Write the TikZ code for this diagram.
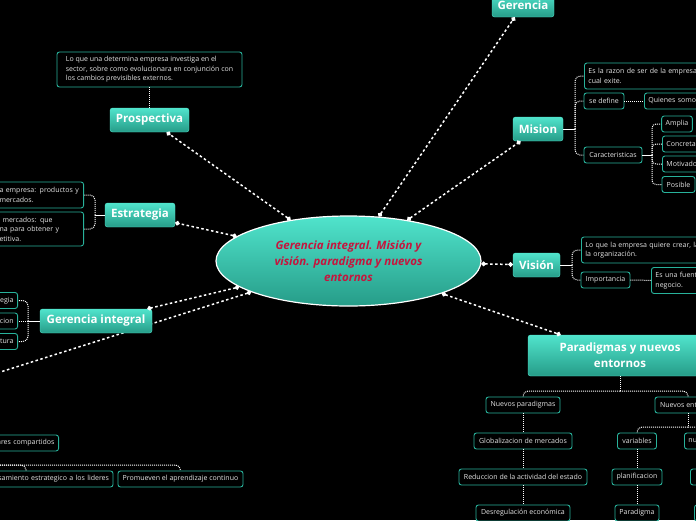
\documentclass[tikz,border=0pt]{standalone}
\usepackage{fontspec}
\setmainfont{Open Sans}
\usetikzlibrary{arrows.meta,shapes.geometric}

\definecolor{temaclaro}{RGB}{80,228,204}
\definecolor{temaoscuro}{RGB}{38,156,136}
\definecolor{bordehoja}{RGB}{40,178,155}
\definecolor{textohoja}{RGB}{228,228,228}
\definecolor{titulo}{RGB}{196,22,62}

\tikzset{
  tema/.style={rounded corners=2.5pt, top color=temaclaro, bottom color=temaoscuro, draw=temaclaro, line width=0.4pt,
    text=white, font=\fontsize{11.5}{14}\selectfont\bfseries, minimum height=24pt, inner sep=0pt},
  hoja/.style={rounded corners=2.5pt, fill=black, draw=bordehoja, line width=0.9pt, text=textohoja,
    font=\fontsize{7}{9.5}\selectfont, minimum height=16pt, inner xsep=4pt, inner ysep=2pt},
  enlace/.style={white, line width=1.5pt, dash pattern=on 2.5pt off 2.5pt, {Circle[length=4.5pt]}-{Circle[length=4.5pt]}},
  rama/.style={white, line width=1pt, dash pattern=on 1pt off 1pt},
  solido/.style={white, line width=1pt},
}

\begin{document}
\begin{tikzpicture}[x=1pt, y=-1pt]
        %%%%%%%%%%%%%%%%%%%%%%%% Fondo %%%%%%%%%%%%%%%%%%%%%%%%%%%%%%%%%%%
        \useasboundingbox (0,0) rectangle (696,520);
        \fill[black] (0,0) rectangle (696,520);
        \clip (0,0) rectangle (696,520);
        %%%%%%%%%%%%%%%%%%%%%%%% Idea central %%%%%%%%%%%%%%%%%%%%%%%%%%%%%%%%%%%
        \node[ellipse, minimum width=265pt, minimum height=90pt, top color=temaclaro, bottom color=temaoscuro,
          draw=white, line width=1.2pt, text=titulo, align=center,
          font=\fontsize{11.5}{16}\selectfont\bfseries\itshape] (centro) at (348.5,261)
          {Gerencia integral. Misión y\\visión. paradigma y nuevos\\entornos};
        \coordinate (fuera) at (-100,404); %rama que sale del cuadro
        \draw[enlace, {Circle[length=4.5pt]}-] (centro) -- (fuera);
        %%%%%%%%%%%%%%%%%%%%%%%% Temas %%%%%%%%%%%%%%%%%%%%%%%%%%%%%%%%%%%
        \node[tema, minimum width=62pt] (gerencia) at (523,5) {Gerencia};
        \node[tema, minimum width=79pt] (prospectiva) at (149.5,120) {Prospectiva};
        \node[tema, minimum width=70pt] (estrategia) at (140,215) {Estrategia};
        \node[tema, minimum width=112pt] (gerint) at (96,321) {Gerencia integral};
        \node[tema, minimum width=50pt] (mision) at (538,129) {Mision};
        \node[tema, minimum width=47pt] (vision) at (536.5,265) {Visión};
        \node[tema, minimum width=184pt, minimum height=41pt, align=center,
          font=\fontsize{11.5}{16}\selectfont\bfseries] (paradigmas) at (620,355.5) {Paradigmas y nuevos\\entornos};
        \draw[enlace] (centro) -- (gerencia);
        \draw[enlace] (centro) -- (prospectiva);
        \draw[enlace] (centro) -- (estrategia);
        \draw[enlace] (centro) -- (gerint);
        \draw[enlace] (centro) -- (mision);
        \draw[enlace] (centro) -- (vision);
        \draw[enlace] (centro) -- (paradigmas);
        %%%%%%%%%%%%%%%%%%%%%%%% Prospectiva %%%%%%%%%%%%%%%%%%%%%%%%%%%%%%%%%%%
        \node[hoja, minimum width=185pt, minimum height=35pt, align=left] (prosdef) at (149.5,69.5)
          {Lo que una determina empresa investiga en el\\sector, sobre como evolucionara en conjunción con\\los cambios previsibles externos.};
        \draw[rama] (prosdef) -- (prospectiva);
        %%%%%%%%%%%%%%%%%%%%%%%% Estrategia %%%%%%%%%%%%%%%%%%%%%%%%%%%%%%%%%%%
        \node[hoja, anchor=east, text width=80pt, align=left, minimum height=26pt] (estr1) at (84,195) {a empresa: productos y\\mercados.};
        \node[hoja, anchor=east, text width=80pt, align=left, minimum height=34pt] (estr2) at (84,229) {\hspace*{3pt}mercados: que\\na para obtener y\\etitiva.};
        \coordinate (je) at (95,215);
        \draw[solido] (estrategia.west) -- (je);
        \draw[rama, rounded corners=5pt] (je) |- (estr1.east);
        \draw[rama, rounded corners=5pt] (je) |- (estr2.east);
        %%%%%%%%%%%%%%%%%%%%%%%% Gerencia integral %%%%%%%%%%%%%%%%%%%%%%%%%%%%%%%%%%%
        \node[hoja, anchor=east, text width=40pt, align=right] (gi1) at (18,300.5) {egia};
        \node[hoja, anchor=east, text width=40pt, align=right] (gi2) at (18,321) {cion};
        \node[hoja, anchor=east, text width=40pt, align=right] (gi3) at (18,341.5) {tura};
        \coordinate (jg) at (28,321);
        \draw[solido] (gerint.west) -- (jg);
        \draw[rama, rounded corners=5pt] (jg) |- (gi1.east);
        \draw[rama] (jg) -- (gi2.east);
        \draw[rama, rounded corners=5pt] (jg) |- (gi3.east);
        %%%%%%%%%%%%%%%%%%%%%%%% Abajo a la izquierda %%%%%%%%%%%%%%%%%%%%%%%%%%%%%%%%%%%
        \node[hoja, anchor=east, text width=80pt, align=right] (valores) at (59,443) {ares compartidos};
        \node[hoja, text width=166pt, align=right] (samiento) at (26,479) {samiento estrategico a los lideres};
        \node[hoja, minimum width=125pt] (promueven) at (180.5,479) {Promueven el aprendizaje continuo};
        \coordinate (ji) at (-20,465);
        \draw[rama, rounded corners=5pt] (ji) -| (samiento.north);
        \draw[rama, rounded corners=5pt] (ji) -| (promueven.north);
        %%%%%%%%%%%%%%%%%%%%%%%% Mision %%%%%%%%%%%%%%%%%%%%%%%%%%%%%%%%%%%
        \node[hoja, anchor=west, text width=140pt, align=left, minimum height=26pt] (razon) at (584,76) {Es la razon de ser de la empresa,\\cual exite.};
        \node[hoja, minimum width=40pt] (sedefine) at (604,101) {se define};
        \node[hoja, anchor=west, text width=60pt, align=left] (quienes) at (644,101) {Quienes somos};
        \node[hoja, minimum width=58pt] (caract) at (613,155) {Caracteristicas};
        \node[hoja, minimum width=30pt] (amplia) at (677,124) {Amplia};
        \node[hoja, anchor=west, text width=40pt, align=left] (concreta) at (662,144) {Concreta};
        \node[hoja, anchor=west, text width=50pt, align=left] (motivadora) at (662,164) {Motivadora};
        \node[hoja, minimum width=33pt] (posible) at (678.5,184.5) {Posible};
        \coordinate (jm) at (575,129);
        \draw[solido] (mision.east) -- (jm);
        \draw[rama, rounded corners=5pt] (jm) |- (razon.west);
        \draw[rama, rounded corners=5pt] (jm) |- (sedefine.west);
        \draw[rama, rounded corners=5pt] (jm) |- (caract.west);
        \draw[rama] (sedefine) -- (quienes);
        \coordinate (jc) at (652,155);
        \draw[solido] (caract.east) -- (jc);
        \draw[rama, rounded corners=4pt] (jc) |- (amplia.west);
        \draw[rama, rounded corners=4pt] (jc) |- (concreta.west);
        \draw[rama, rounded corners=4pt] (jc) |- (motivadora.west);
        \draw[rama, rounded corners=4pt] (jc) |- (posible.west);
        %%%%%%%%%%%%%%%%%%%%%%%% Vision %%%%%%%%%%%%%%%%%%%%%%%%%%%%%%%%%%%
        \node[hoja, anchor=west, text width=140pt, align=left, minimum height=26pt] (crear) at (581,250) {Lo que la empresa quiere crear, la\\la organización.};
        \node[hoja, minimum width=49pt] (importancia) at (605.5,280) {Importancia};
        \node[hoja, anchor=west, text width=60pt, align=left, minimum height=26pt] (fuente) at (651,280.5) {Es una fuente\\negocio.};
        \coordinate (jv) at (572,265);
        \draw[solido] (vision.east) -- (jv);
        \draw[rama, rounded corners=5pt] (jv) |- (crear.west);
        \draw[rama, rounded corners=5pt] (jv) |- (importancia.west);
        \draw[rama] (importancia) -- (fuente);
        %%%%%%%%%%%%%%%%%%%%%%%% Paradigmas y nuevos entornos %%%%%%%%%%%%%%%%%%%%%%%%%%%%%%%%%%%
        \node[hoja, minimum width=74pt] (nuevospar) at (523,405) {Nuevos paradigmas};
        \node[hoja, minimum width=66pt] (nuevosent) at (688,405) {Nuevos entornos};
        \node[hoja, minimum width=98pt] (globalizacion) at (523,441) {Globalizacion de mercados};
        \node[hoja, minimum width=128pt] (reduccion) at (523,477) {Reduccion de la actividad del estado};
        \node[hoja, minimum width=94pt] (desregulacion) at (523,513) {Desregulación económica};
        \node[hoja, minimum width=39pt] (variables) at (637,441) {variables};
        \node[hoja, minimum width=50pt] (planificacion) at (637,477) {planificacion};
        \node[hoja, minimum width=44pt] (paradigma) at (637,513) {Paradigma};
        \node[hoja, anchor=west, text width=40pt, align=left] (nu) at (684,441) {nu};
        \node[hoja, anchor=west, minimum width=40pt] (oculto1) at (690,477) {};
        \node[hoja, anchor=west, minimum width=40pt] (oculto2) at (694,513) {};
        \coordinate (jp) at (620,391);
        \draw[rama] (paradigmas.south) -- (jp);
        \draw[rama, rounded corners=5pt] (jp) -| (nuevospar.north);
        \draw[rama, rounded corners=5pt] (jp) -| (nuevosent.north);
        \draw[rama] (nuevospar) -- (globalizacion);
        \draw[rama] (globalizacion) -- (reduccion);
        \draw[rama] (reduccion) -- (desregulacion);
        \coordinate (jn) at (688,427);
        \draw[rama] (nuevosent.south) -- (jn);
        \draw[rama, rounded corners=5pt] (jn) -| (variables.north);
        \draw[rama, rounded corners=5pt] (jn) -| (nu.north);
        \draw[rama] (variables) -- (planificacion);
        \draw[rama] (planificacion) -- (paradigma);
      \end{tikzpicture}
\end{document}
